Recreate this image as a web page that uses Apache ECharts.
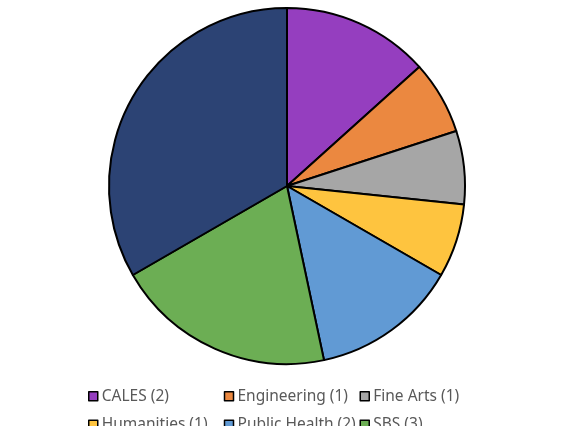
<!DOCTYPE html>
<html><head><meta charset="utf-8">
<script src="https://cdn.jsdelivr.net/npm/echarts@6/dist/echarts.min.js"></script>
<style>html,body{margin:0;padding:0;background:#fff}#c{width:568px;height:426px}</style>
</head><body><div id="c"></div>
<script>
var categories = ['CALES (2)', 'Engineering (1)', 'Fine Arts (1)', 'Humanities (1)', 'Public Health (2)', 'SBS (3)', 'Sciences (5)'];
var values = [2, 1, 1, 1, 2, 3, 5];
var colors = ['#953EBF', '#EB8840', '#A6A6A6', '#FEC43F', '#619AD4', '#6CAE54', '#2C4374'];

var chart = echarts.init(document.getElementById('c'));
chart.setOption({
  animation: false,
  color: colors,
  legend: {
    left: 88, top: 382, width: 410, padding: 0,
    itemWidth: 9, itemHeight: 9, itemGap: 0,
    icon: 'rect',
    itemStyle: { borderColor: '#000', borderWidth: 1.5 },
    textStyle: { fontFamily: 'Noto Sans', fontSize: 15.5, color: '#595959', width: 122, lineHeight: 28.5, padding: [0,0,0,-1] },
    data: categories
  },
  series: [{
    type: 'pie',
    center: [287, 186],
    radius: 178,
    startAngle: 90,
    clockwise: true,
    label: { show: false },
    labelLine: { show: false },
    itemStyle: { borderColor: '#000', borderWidth: 2 },
    emphasis: { disabled: true },
    data: categories.map(function (n, i) { return { name: n, value: values[i] }; })
  }]
});
</script></body></html>
